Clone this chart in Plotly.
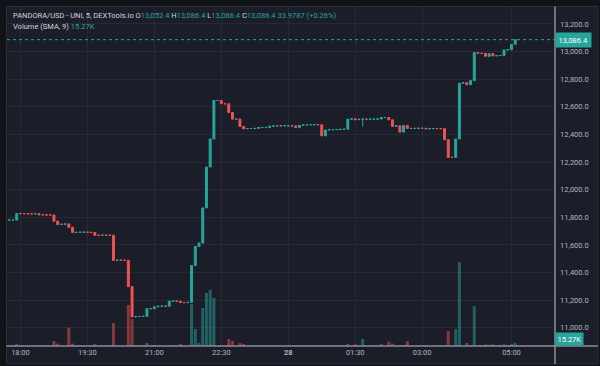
import pandas as pd
import plotly.graph_objects as go

# ---------------- data (5-minute candles, 27th 17:45 -> 28th 05:05) ----------------
times = pd.date_range("2024-01-27 17:45", periods=137, freq="5min")

open_prices = [
    11780, 11780, 11780, 11828, 11826, 11826, 11825, 11825, 11826, 11818,
    11818, 11817, 11817, 11772, 11748, 11750, 11752, 11728, 11690, 11692,
    11692, 11693, 11692, 11690, 11670, 11670, 11671, 11670, 11670, 11488,
    11490, 11489, 11489, 11298, 11078, 11082, 11082, 11083, 11138, 11139,
    11152, 11156, 11157, 11156, 11193, 11193, 11192, 11183, 11182, 11184,
    11451, 11589, 11614, 11868, 12164, 12367, 12646, 12646, 12622, 12622,
    12559, 12511, 12512, 12458, 12441, 12443, 12443, 12444, 12450, 12450,
    12451, 12460, 12462, 12463, 12462, 12463, 12463, 12462, 12450, 12466,
    12469, 12470, 12470, 12471, 12470, 12390, 12432, 12434, 12435, 12436,
    12437, 12438, 12510, 12513, 12507, 12510, 12511, 12510, 12511, 12511,
    12512, 12523, 12523, 12506, 12458, 12463, 12417, 12465, 12443, 12444,
    12444, 12445, 12445, 12441, 12442, 12443, 12442, 12442, 12362, 12234,
    12234, 12367, 12771, 12775, 12760, 12790, 12993, 12988, 12987, 12966,
    12985, 12969, 12971, 12972, 13012, 13014, 13052.4,
]
close_prices = [
    11780, 11780, 11828, 11826, 11826, 11825, 11825, 11826, 11818, 11818,
    11817, 11817, 11772, 11748, 11750, 11752, 11728, 11690, 11692, 11692,
    11693, 11692, 11690, 11670, 11670, 11671, 11670, 11670, 11488, 11490,
    11489, 11489, 11298, 11078, 11082, 11082, 11083, 11138, 11139, 11152,
    11156, 11157, 11156, 11193, 11193, 11192, 11183, 11182, 11184, 11451,
    11589, 11614, 11868, 12164, 12367, 12646, 12646, 12622, 12622, 12559,
    12511, 12512, 12458, 12441, 12443, 12443, 12444, 12450, 12450, 12451,
    12460, 12462, 12463, 12462, 12463, 12463, 12462, 12450, 12466, 12469,
    12470, 12470, 12471, 12470, 12390, 12432, 12434, 12435, 12436, 12437,
    12438, 12510, 12513, 12507, 12510, 12511, 12510, 12511, 12511, 12512,
    12523, 12523, 12506, 12458, 12463, 12417, 12465, 12443, 12444, 12444,
    12445, 12445, 12441, 12442, 12443, 12442, 12442, 12362, 12234, 12234,
    12367, 12771, 12775, 12760, 12790, 12993, 12988, 12987, 12966, 12985,
    12969, 12971, 12972, 13012, 13014, 13052.4, 13086.4,
]
wick_lows = {"2024-01-28 01:40": 12458}

volumes_k = [
    0, 0, 10, 0, 0, 0, 0, 0, 2, 0,
    0, 0, 25, 12, 0, 0, 92, 12, 0, 0,
    0, 0, 0, 10, 0, 0, 0, 0, 115, 0,
    0, 0, 205, 135, 5, 0, 0, 15, 0, 5,
    0, 0, 0, 4, 0, 0, 10, 0, 0, 210,
    85, 15, 190, 265, 280, 240, 0, 5, 0, 35,
    25, 0, 15, 10, 0, 0, 0, 4, 0, 0,
    4, 0, 0, 0, 0, 0, 0, 3, 5, 0,
    0, 0, 0, 0, 4, 3, 0, 0, 0, 0,
    0, 10, 0, 8, 0, 35, 0, 0, 0, 0,
    10, 0, 22, 12, 0, 4, 5, 25, 0, 0,
    5, 0, 3, 0, 0, 0, 0, 5, 75, 0,
    85, 420, 0, 15, 4, 200, 5, 4, 8, 6,
    8, 5, 6, 8, 3, 10, 15.27,
]

tick_times = ["2024-01-27 18:00", "2024-01-27 19:30", "2024-01-27 21:00", "2024-01-27 22:30",
              "2024-01-28 00:00", "2024-01-28 01:30", "2024-01-28 03:00", "2024-01-28 05:00"]
tick_text = ["18:00", "19:30", "21:00", "22:30", "<b>28</b>", "01:30", "03:00", "05:00"]
price_ticks = list(range(11000, 13201, 200))
last_price = 13086.4
last_volume_label = "15.27K"

# ---------------- derived ----------------
GREEN = "#26a69a"
RED = "#ef5350"
high_prices = [max(o, c) for o, c in zip(open_prices, close_prices)]
low_prices = [min(o, c) for o, c in zip(open_prices, close_prices)]
for k, t in enumerate(times):
    key = t.strftime("%Y-%m-%d %H:%M")
    if key in wick_lows:
        low_prices[k] = wick_lows[key]
volumes = [v * 1000 for v in volumes_k]
vol_colors = ["rgba(38,166,154,0.5)" if c >= o else "rgba(239,83,80,0.5)"
              for o, c in zip(open_prices, close_prices)]

FONT = "Roboto"
FS = 7.5
fig = go.Figure()
fig.add_trace(go.Bar(x=times, y=volumes, marker=dict(color=vol_colors, line=dict(width=0)),
                     yaxis="y", showlegend=False, hoverinfo="skip"))
fig.add_trace(go.Candlestick(
    x=times, open=open_prices, high=high_prices, low=low_prices, close=close_prices,
    yaxis="y2", showlegend=False, whiskerwidth=0,
    increasing=dict(line=dict(color=GREEN, width=1), fillcolor=GREEN),
    decreasing=dict(line=dict(color=RED, width=1), fillcolor=RED),
))

W, H = 600, 366
ml, mr, mt, mb = 7, 45, 7, 20
pw, ph = W - ml - mr, H - mt - mb

def px_x(px):
    return (px - ml) / pw

def px_y(py):
    return (H - mb - py) / ph

PANEL = "#1b1e29"
OUTER = "#121319"
GRID = "#262a36"
AXLINE = "#8b8e97"
TXT = "#b2b5be"

shapes = [
    dict(type="rect", xref="paper", yref="paper", x0=px_x(6.5), x1=px_x(598), y0=px_y(364), y1=px_y(6.5),
         fillcolor=PANEL, line=dict(color="#2a2d38", width=1), layer="below"),
    dict(type="line", xref="paper", yref="y2", x0=0, x1=1, y0=last_price, y1=last_price,
         line=dict(color=GREEN, width=1, dash="dot")),
    dict(type="line", xref="paper", yref="paper", x0=1, x1=1, y0=px_y(364), y1=px_y(6.5),
         line=dict(color=AXLINE, width=1.5)),
    dict(type="line", xref="paper", yref="paper", x0=px_x(6.5), x1=px_x(598), y0=0, y1=0,
         line=dict(color=AXLINE, width=1.5)),
]

g = lambda s: f"<span style='color:{GREEN}'>{s}</span>"
header1 = ("<span style='color:#d1d4dc'>PANDORA/USD - UNI, 5, DEXTools.io</span> "
           f"O{g('13,052.4')} H{g('13,086.4')} L{g('13,086.4')} C{g('13,086.4')} {g('33.9787 (+0.26%)')}")
header2 = f"<span style='color:#d1d4dc'>Volume (SMA, 9)</span> {g('15.27K')}"

annotations = [
    dict(xref="paper", yref="paper", x=px_x(10.5), y=px_y(15.5), text=header1, showarrow=False,
         xanchor="left", yanchor="middle", font=dict(family=FONT, size=FS, color="#d1d4dc")),
    dict(xref="paper", yref="paper", x=px_x(10.5), y=px_y(26.5), text=header2, showarrow=False,
         xanchor="left", yanchor="middle", font=dict(family=FONT, size=FS, color="#d1d4dc")),
    dict(xref="paper", yref="y2", x=1, y=last_price, text=f"{last_price:,.1f}", showarrow=False,
         xanchor="left", yanchor="middle", bgcolor=GREEN, borderpad=2.5,
         font=dict(family=FONT, size=FS, color="#ffffff")),
    dict(xref="paper", yref="paper", x=1, y=0, text=last_volume_label, showarrow=False,
         xanchor="left", yanchor="bottom", bgcolor=GREEN, borderpad=1.5,
         font=dict(family=FONT, size=FS, color="#ffffff")),
]

fig.update_layout(
    width=W, height=H, margin=dict(l=ml, r=mr, t=mt, b=mb),
    paper_bgcolor=OUTER, plot_bgcolor="rgba(0,0,0,0)",
    showlegend=False, bargap=0.2, boxgap=0.25,
    font=dict(family=FONT, size=FS, color=TXT),
    shapes=shapes, annotations=annotations,
    xaxis=dict(type="date", range=["2024-01-27 17:41:54", "2024-01-28 05:58:30"],
               tickvals=tick_times, ticktext=tick_text, showgrid=True, gridcolor=GRID,
               gridwidth=1, zeroline=False, showline=False, ticks="",
               tickfont=dict(family=FONT, size=FS, color=TXT),
               rangeslider=dict(visible=False)),
    yaxis=dict(range=[0, 339 * 5000], visible=False, showgrid=False, zeroline=False),
    yaxis2=dict(overlaying="y", side="right", anchor="x", range=[10868, 13323],
                tickvals=price_ticks, ticktext=[f"{v:,.1f}" for v in price_ticks],
                showgrid=True, gridcolor=GRID, gridwidth=1, zeroline=False, showline=False,
                ticks="", ticklabelstandoff=4,
                tickfont=dict(family=FONT, size=FS, color=TXT)),
)

fig.write_html("out.html",
               config={"displayModeBar": False},
               post_script="document.body.style.margin='0px';"
                           "document.body.style.padding='0px';"
                           "document.body.style.background='" + OUTER + "';")
